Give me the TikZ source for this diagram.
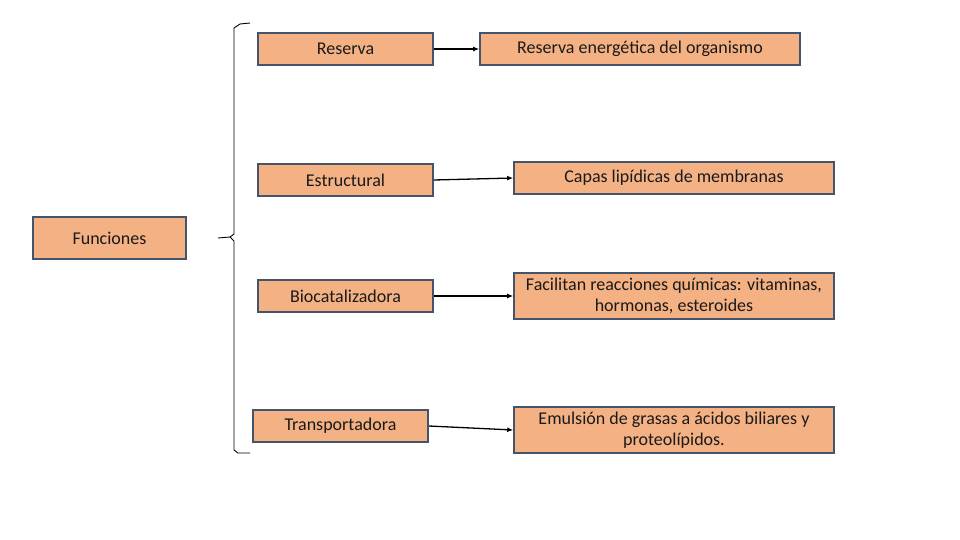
\documentclass[tikz,border=0pt]{standalone}
\usepackage{fontspec}
\setmainfont{Carlito}
\usetikzlibrary{arrows.meta}
\definecolor{boxfill}{HTML}{F4B183}
\definecolor{boxline}{HTML}{44546A}
\definecolor{txt}{HTML}{1A1A1A}
\begin{document}
\begin{tikzpicture}[x=1pt,y=-1pt,
  box/.style={draw=boxline,line width=1.6pt,fill=boxfill,inner sep=0pt,text=txt,
    font=\fontsize{18}{21.5}\selectfont,align=center},
  conn/.style={line width=1.3pt,-{Latex[length=6pt,width=5pt]}},
  bracel/.style={line width=0.9pt}]
\useasboundingbox (0,0) rectangle (960,540);
\fill[white] (0,0) rectangle (960,540);
% left box
\node[box,minimum width=153pt,minimum height=42pt] (fun) at (109.5,238) {Funciones};
% middle boxes
\node[box,minimum width=175pt,minimum height=32pt] (res) at (345.5,49) {Reserva};
\node[box,minimum width=175pt,minimum height=32pt] (est) at (345.5,180) {Estructural};
\node[box,minimum width=175pt,minimum height=32pt] (bio) at (345.5,296) {Biocatalizadora};
\node[box,minimum width=175pt,minimum height=32pt] (tra) at (340.5,426) {Transportadora};
% right boxes
\node[box,minimum width=320pt,minimum height=32pt] (rres) at (640,49) {Reserva energética del organismo};
\node[box,minimum width=320pt,minimum height=32pt] (rest) at (674,178) {Capas lipídicas de membranas};
\node[box,minimum width=320pt,minimum height=46pt] (rbio) at (674,296) {Facilitan reacciones químicas: vitaminas,\\hormonas, esteroides};
\node[box,minimum width=320pt,minimum height=46pt] (rtra) at (674,430) {Emulsión de grasas a ácidos biliares y\\proteolípidos.};
% connectors
\draw[conn] (res.east) -- (rres.west);
\draw[conn] (est.east) -- (rest.west);
\draw[conn] (bio.east) -- (rbio.west);
\draw[conn] (tra.east) -- (rtra.west);
% brace
\coordinate (btop) at (250,23);
\coordinate (bmid) at (218,238);
\coordinate (bbot) at (250,453);
\draw[bracel] (btop) -- (240,24) -- (234,28) -- (234,234) -- (230,237) -- (bmid);
\draw[bracel] (230,237) -- (234,241) -- (234,450) -- (238,453) -- (bbot);
\end{tikzpicture}
\end{document}
